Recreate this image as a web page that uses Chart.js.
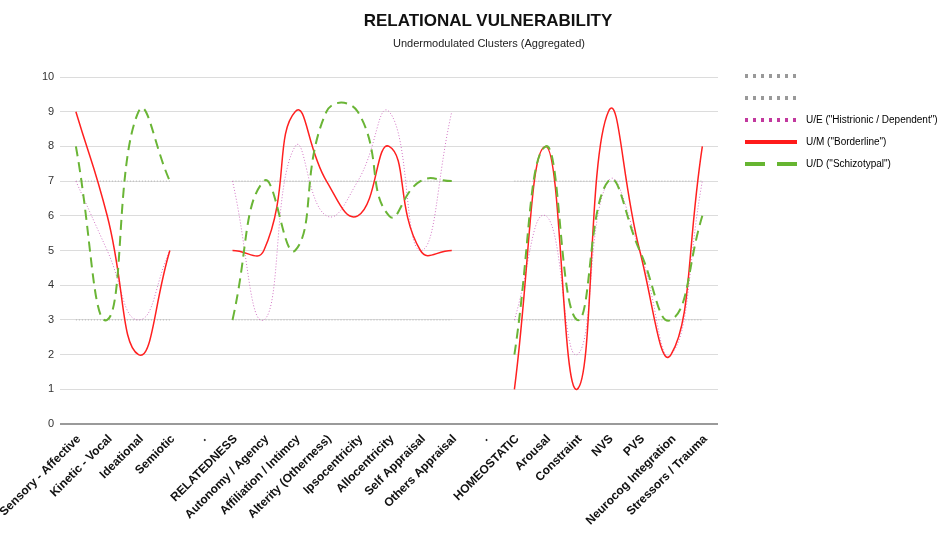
<!DOCTYPE html>
<html>
<head>
<meta charset="utf-8">
<script src="https://cdn.jsdelivr.net/npm/chart.js@4.4.1/dist/chart.umd.min.js"></script>
<style>
    body { margin: 0; background: #fff; font-family: "Liberation Sans", Arial, sans-serif; }
    #wrap { position: relative; width: 941px; height: 534px; }
    #titre { position: absolute; left: 0; width: 976px; top: 11px; text-align: center; font-size: 17px; font-weight: bold; color: #111; }
    #sousTitre { position: absolute; left: 0; width: 978px; top: 37px; text-align: center; font-size: 11px; color: #222; }
    canvas { position: absolute; left: 0; top: 0; }
</style>
</head>
<body>
<div id="wrap">
    <canvas id="chartVulnerabilite" width="941" height="534"></canvas>
    <div id="titre">RELATIONAL VULNERABILITY</div>
    <div id="sousTitre">Undermodulated Clusters (Aggregated)</div>
</div>
<script>
// ----------- Données -----------//
const categories = ['Sensory - Affective', 'Kinetic - Vocal', 'Ideational', 'Semiotic', '.',
    'RELATEDNESS', 'Autonomy / Agency', 'Affiliation / Intimcy', 'Alterity (Otherness)', 'Ipsocentricity',
    'Allocentricity', 'Self Appraisal', 'Others Appraisal', '.',
    'HOMEOSTATIC', 'Arousal', 'Constraint', 'NVS', 'PVS', 'Neurocog Integration', 'Stressors / Trauma'];

// lignes de référence grises (7 et 3)
const refHaute = [7, 7, 7, 7, null, 7, 7, 7, 7, 7, 7, 7, 7, null, 7, 7, 7, 7, 7, 7, 7];
const refBasse = [3, 3, 3, 3, null, 3, 3, 3, 3, 3, 3, 3, 3, null, 3, 3, 3, 3, 3, 3, 3];

const valeursUE = [7, 5, 3, 5, null, 7, 3, 8, 6, 7, 9, 5, 9, null, 3, 6, 2, 7, 5, 2, 7];
const valeursUM = [9, 6, 2, 5, null, 5, 5, 9, 7, 6, 8, 5, 5, null, 1, 8, 1, 9, 5, 2, 8];
const valeursUD = [8, 3, 9, 7, null, 3, 7, 5, 9, 9, 6, 7, 7, null, 2, 8, 3, 7, 5, 3, 6];

const ticksY = [0, 1, 2, 3, 4, 5, 6, 7, 8, 9, 10];

// couleurs / motifs de la légende
const legendeCouleurs = ['#999999', '#999999', '#c2399e', '#ff1a1a', '#66b531'];
const legendeMotifs = [[3, 5], [3, 5], [3, 5], [52, 0], [20, 12]];

// trait de légende : un blanc de 15px au début, puis le motif sur 52px
function traitLegende(motif) {
    let trait = [0, 15];
    let longueur = 0;
    while (longueur < 52) {
        trait.push(Math.min(motif[0], 52 - longueur));
        longueur += motif[0];
        if (longueur >= 52) break;
        trait.push(motif[1]);
        longueur += motif[1];
    }
    trait.push(200);
    return trait;
}

const ctx = document.getElementById('chartVulnerabilite').getContext('2d');

new Chart(ctx, {
    type: 'line',
    data: {
        labels: categories,
        datasets: [{
            label: '',
            data: refHaute,
            borderColor: '#b0b0b0',
            borderWidth: 1,
            borderDash: [1, 2],
            tension: 0,
            order: 5
        }, {
            label: '',
            data: refBasse,
            borderColor: '#b0b0b0',
            borderWidth: 1,
            borderDash: [1, 2],
            tension: 0,
            order: 4
        }, {
            label: 'U/E ("Histrionic / Dependent")',
            data: valeursUE,
            borderColor: '#d275c4',
            borderWidth: 1,
            borderDash: [1, 2],
            order: 3
        }, {
            label: 'U/M ("Borderline")',
            data: valeursUM,
            borderColor: '#ff2020',
            borderWidth: 1.5,
            order: 2
        }, {
            label: 'U/D ("Schizotypal")',
            data: valeursUD,
            borderColor: '#6ab536',
            borderWidth: 2,
            borderDash: [10, 6],
            order: 1
        }]
    },
    options: {
        responsive: false,
        animation: false,
        devicePixelRatio: 1,
        layout: {
            padding: { top: 59, left: 36, right: 0, bottom: 6 }
        },
        elements: {
            point: { radius: 0, hoverRadius: 0 },
            line: { tension: 0.5, fill: false }
        },
        spanGaps: false,
        scales: {
            x: {
                offset: true,
                grid: { display: false, offset: true },
                border: { display: false },
                ticks: {
                    autoSkip: false,
                    maxRotation: 45,
                    minRotation: 45,
                    labelOffset: 3,
                    color: '#111',
                    padding: 0,
                    font: { family: '"Liberation Sans", Arial, sans-serif', size: 12, weight: 'bold' }
                },
                afterFit: function (scale) {
                    scale.paddingLeft = 0;
                    scale.paddingRight = 0;
                }
            },
            y: {
                min: 0,
                max: 10,
                afterBuildTicks: function (scale) {
                    scale.ticks = ticksY.map(function (v) { return { value: v }; });
                },
                afterFit: function (scale) {
                    scale.paddingTop = 77;
                },
                border: { display: false },
                grid: {
                    drawTicks: false,
                    color: function (c) { return c.tick.value === 0 ? '#9a9a9a' : '#dcdcdc'; },
                    lineWidth: function (c) { return c.tick.value === 0 ? 2 : 1; }
                },
                ticks: {
                    padding: 6,
                    color: '#333',
                    font: { family: '"Liberation Sans", Arial, sans-serif', size: 11 }
                }
            }
        },
        plugins: {
            tooltip: { enabled: false },
            legend: {
                position: 'right',
                align: 'start',
                maxWidth: 223,
                labels: {
                    usePointStyle: true,
                    pointStyleWidth: 71,
                    padding: 12,
                    color: '#222',
                    font: { family: '"Liberation Sans", Arial, sans-serif', size: 10 },
                    generateLabels: function (chart) {
                        return chart.data.datasets.map(function (ds, i) {
                            return {
                                text: ds.label,
                                fillStyle: 'rgba(0,0,0,0)',
                                strokeStyle: legendeCouleurs[i],
                                lineWidth: 4,
                                lineDash: traitLegende(legendeMotifs[i]),
                                pointStyle: 'line',
                                hidden: false,
                                datasetIndex: i
                            };
                        });
                    }
                }
            }
        }
    }
});
</script>
</body>
</html>
